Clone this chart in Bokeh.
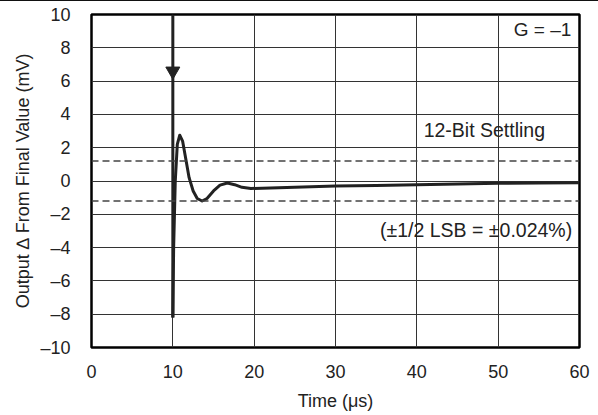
from bokeh.plotting import figure
from bokeh.embed import file_html
from bokeh.resources import INLINE
from bokeh.models import Span, Label, FixedTicker, Range1d

# Data
time_us = [10.0, 10.1, 10.3, 10.55, 10.85, 11.2, 11.6, 12.0, 12.5, 13.0, 13.6, 14.2,
           15.0, 15.8, 16.7, 17.6, 18.5, 19.6, 22, 25, 30, 35, 40, 45, 50, 55, 60]
output_mv = [-8.2, -4.0, 0.0, 2.2, 2.75, 2.4, 1.3, 0.2, -0.6, -1.05, -1.2, -1.05,
             -0.6, -0.25, -0.12, -0.22, -0.38, -0.45, -0.42, -0.38, -0.3, -0.27, -0.22,
             -0.18, -0.14, -0.12, -0.1]
step_x = [10, 10]
step_y = [10, -8.2]
arrow_x = [10]
arrow_y = [6.6]
lsb_band = [1.2, -1.2]
x_ticks = [0, 10, 20, 30, 40, 50, 60]
y_ticks = [-10, -8, -6, -4, -2, 0, 2, 4, 6, 8, 10]

FONT = "Liberation Sans"
INK = "#222222"

p = figure(width=598, height=412, output_backend="svg", toolbar_location=None,
           x_range=Range1d(0, 60), y_range=Range1d(-10, 10),
           min_border_left=91, min_border_right=19, min_border_top=13, min_border_bottom=64)
p.styles = {"border-top": "1.5px solid #111111"}

p.outline_line_color = "black"
p.outline_line_width = 2.5
p.background_fill_color = "white"
p.border_fill_color = "white"

for ax in (p.xaxis[0], p.yaxis[0]):
    ax.axis_line_color = None
    ax.major_tick_line_color = None
    ax.minor_tick_line_color = None
    ax.major_label_text_font = FONT
    ax.major_label_text_font_size = "18px"
    ax.major_label_text_color = INK
    ax.axis_label_text_font = FONT
    ax.axis_label_text_font_size = "18px"
    ax.axis_label_text_font_style = "normal"
    ax.axis_label_text_color = INK

p.xaxis.ticker = FixedTicker(ticks=x_ticks)
p.yaxis.ticker = FixedTicker(ticks=y_ticks)
p.yaxis.major_label_overrides = {t: (("\u2013" + str(-t)) if t < 0 else str(t)) for t in y_ticks}
p.xaxis.axis_label = "Time (\u03bcs)"
p.yaxis.axis_label = "Output \u2206 From Final Value (mV)"
p.xaxis.major_label_standoff = 11
p.yaxis.major_label_standoff = 15
p.xaxis.axis_label_standoff = 10
p.yaxis.axis_label_standoff = 4

p.xgrid.grid_line_color = "#333333"
p.ygrid.grid_line_color = "#333333"
p.xgrid.grid_line_width = 1
p.ygrid.grid_line_width = 1

for yv in lsb_band:
    p.add_layout(Span(location=yv, dimension="width", line_color="#444444",
                      line_dash="7 4", line_width=1.3))

p.line(step_x, step_y, line_color=INK, line_width=3)
p.scatter(arrow_x, arrow_y, marker="inverted_triangle", size=14,
          fill_color=INK, line_color=INK)
p.line(time_us, output_mv, line_color=INK, line_width=3, line_join="round")

p.add_layout(Label(x=59.0, y=9.1, text="G = \u20131", text_align="right",
                   text_baseline="middle", text_font=FONT,
                   text_font_size="19px", text_color=INK))
p.add_layout(Label(x=48.3, y=3.05, text="12-Bit Settling", text_align="center",
                   text_baseline="middle", text_font=FONT,
                   text_font_size="19.5px", text_color=INK))
p.add_layout(Label(x=59.1, y=-2.95, text="(\u00b11/2 LSB = \u00b10.024%)", text_align="right",
                   text_baseline="middle", text_font=FONT,
                   text_font_size="19.5px", text_color=INK))

open("out.html", "w").write(file_html(p, INLINE))
